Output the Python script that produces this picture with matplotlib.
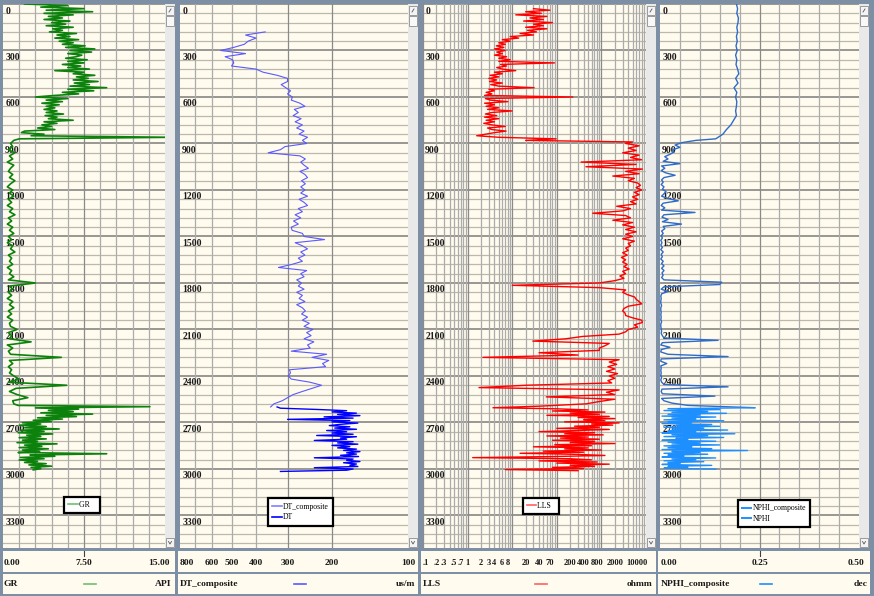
import numpy as np
import matplotlib
matplotlib.use('Agg')
import matplotlib.pyplot as plt
from matplotlib.lines import Line2D
from matplotlib.patches import Rectangle
from matplotlib.transforms import blended_transform_factory as blend

# ---------------- data ----------------
# GR (API): depth sample grids and values read from the log
gr_depth = np.concatenate([np.arange(0, 880, 10), np.arange(880, 2600, 20), np.arange(2590, 3010, 8)])
gr_api = [
    2.0, 6.0, 3.5, 7.5, 4.0, 8.3, 3.8, 6.5, 4.2, 5.5,
    3.8, 6.2, 4.5, 5.8, 4.0, 6.5, 4.6, 5.5, 4.3, 6.8,
    5.0, 6.2, 4.8, 7.0, 5.2, 6.5, 5.5, 7.6, 5.8, 8.5,
    6.2, 8.2, 6.0, 7.3, 6.8, 5.8, 7.8, 6.0, 7.5, 5.5,
    7.2, 6.0, 8.0, 4.8, 7.5, 6.5, 8.5, 6.8, 7.9, 6.5,
    8.8, 6.6, 8.0, 6.2, 9.6, 6.0, 8.4, 5.5, 7.0, 4.8,
    3.0, 6.0, 4.0, 5.5, 3.6, 5.2, 4.0, 4.8, 3.8, 5.0,
    4.0, 5.6, 3.9, 5.0, 4.2, 6.5, 3.8, 5.0, 3.6, 4.5,
    3.2, 4.8, 2.0, 1.7, 3.8, 2.6, 15.5, 1.5,
    1.0, 0.7, 0.9, 0.5, 1.1, 0.6, 0.9, 0.4, 1.0, 0.7,
    0.5, 0.9, 0.6, 1.1, 0.7, 0.4, 0.9, 0.6, 1.0, 0.5,
    0.8, 0.4, 0.9, 0.6, 1.1, 0.5, 0.8, 0.4, 0.9, 0.6,
    1.0, 0.5, 0.8, 0.4, 0.9, 0.7, 1.1, 0.5, 0.8, 0.6,
    0.9, 0.4, 0.8, 0.6, 1.0, 0.5, 3.0, 0.6, 0.9, 0.5,
    0.8, 0.4, 0.9, 0.6, 1.0, 0.5, 0.8, 0.4, 0.9, 0.6,
    0.7, 1.3, 0.5, 0.8, 0.6, 2.6, 0.4, 0.9, 0.5, 0.7,
    5.4, 0.6, 0.9, 0.5, 0.8, 0.6, 1.0, 1.5, 0.5, 5.9,
    1.2, 0.6, 1.3, 2.3, 0.9, 1.0,
    1.4, 13.6, 3.0, 7.0, 4.2, 6.5, 3.5, 8.3, 4.0, 6.8,
    3.2, 5.5, 2.8, 4.5, 1.8, 3.5, 1.5, 4.0, 2.0, 5.2,
    1.6, 3.8, 1.4, 4.6, 2.2, 3.5, 1.5, 4.0, 1.8, 3.2,
    1.3, 5.0, 2.0, 3.6, 1.5, 4.2, 1.8, 3.4, 1.4, 9.6,
    2.5, 4.8, 1.6, 3.8, 1.5, 3.2, 2.0, 4.0, 2.4, 4.5,
    2.6, 3.5, 2.8,
]

# DT_composite (us/m)
dtc_depth = np.arange(180, 2601, 20)
dtc_usm = [
    368, 440, 400, 430, 445, 490, 552, 440, 530, 495,
    490, 500, 400, 375, 330, 300, 300, 318, 305, 292,
    300, 287, 290, 268, 256, 282, 272, 285, 265, 280,
    262, 276, 258, 270, 250, 262, 252, 307, 320, 358,
    268, 255, 266, 258, 248, 268, 256, 250, 264, 255,
    266, 256, 266, 250, 270, 258, 250, 272, 262, 280,
    266, 284, 272, 290, 288, 262, 258, 214, 280, 262,
    250, 266, 256, 272, 262, 288, 326, 252, 266, 258,
    276, 264, 272, 258, 276, 262, 270, 256, 276, 262,
    255, 264, 250, 262, 246, 258, 238, 252, 242, 258,
    236, 250, 244, 290, 210, 240, 206, 218, 212, 295,
    292, 298, 290, 245, 220, 240, 262, 285, 300, 315,
    340, 350,
]

# DT (us/m)
dt_depth = np.arange(2600, 3017, 8)
dt_usm = [
    330, 320, 230, 175, 200, 160, 190, 155, 215, 165,
    300, 170, 200, 158, 185, 205, 170, 195, 160, 210,
    175, 200, 165, 230, 160, 185, 175, 235, 165, 190,
    158, 200, 170, 190, 160, 180, 155, 175, 160, 185,
    157, 235, 165, 175, 155, 180, 160, 170, 158, 235,
    165, 175, 320,
]

# LLS (ohmm)
lls_depth = np.concatenate([np.arange(30, 891, 10), np.arange(900, 2596, 15), np.arange(2605, 3015, 7)])
lls_ohmm = [
    30, 70, 20, 45, 12, 60, 25, 50, 18, 80,
    30, 50, 20, 60, 22, 35, 15, 30, 9, 14,
    6, 9, 5, 7, 4.4, 6.5, 4, 7, 4.5, 6,
    4, 7.5, 5, 9, 5, 89, 5.5, 7.5, 4.5, 6,
    12, 4, 6, 3.2, 5, 3, 4.5, 3.1, 6, 3.3,
    5, 31, 3, 4, 2.6, 3.5, 2.4, 229, 2.5, 3.2,
    8, 2.4, 4, 2.6, 5, 2.8, 10, 3.5, 2.5, 4.5,
    2.4, 5, 2.6, 4, 2.3, 3.5, 7, 2.8, 3.5, 7.3,
    4, 2.5, 1.6, 5, 97, 20, 5000,
    3500, 7000, 4000, 6000, 3000, 7000, 4500, 8000, 350, 6000,
    450, 8300, 3500, 7000, 1800, 5500, 4000, 6500, 7500, 6000,
    8000, 5500, 7000, 5000, 6500, 4500, 6000, 2200, 4500, 3000,
    640, 3500, 4500, 1800, 5000, 3000, 5500, 3500, 6000, 3500,
    5000, 3000, 5500, 4000, 4500, 3500, 4000, 3000, 3800, 2800,
    3500, 3000, 3800, 3200, 4200, 3000, 3500, 2600, 3200, 2000,
    900, 10, 900, 3500, 3000, 3800, 5500, 6000, 7000, 8000,
    4000, 3200, 3000, 3400, 3500, 5000, 8000, 8300, 5500, 6500,
    4000, 3500, 2500, 380, 160, 29, 1500, 1200, 900, 900,
    40, 300, 2.2, 2500, 1500, 2200, 1400, 2000, 1300, 2300,
    1500, 2000, 1400, 1700, 20, 1.8, 2500, 1300, 2000, 58,
    2000, 900, 450, 40,
    3.7, 100, 500, 80, 1200, 200, 900, 60, 1500, 300,
    2000, 400, 1200, 150, 2500, 600, 1800, 250, 900, 100,
    1500, 300, 40, 700, 150, 1100, 60, 500, 120, 900,
    80, 700, 200, 2000, 90, 600, 30, 500, 150, 1000,
    50, 400, 15, 300, 1200, 80, 1.3, 200, 600, 40,
    800, 100, 1500, 200, 700, 80, 400, 7, 300,
]

# NPHI_composite (dec)
nphic_depth = np.concatenate([np.arange(0, 871, 30), np.arange(880, 2606, 15)])
nphic_dec = [
    0.192, 0.195, 0.193, 0.197, 0.196, 0.193, 0.195, 0.192, 0.194, 0.191,
    0.194, 0.190, 0.193, 0.191, 0.195, 0.198, 0.190, 0.196, 0.186, 0.193,
    0.190, 0.193, 0.192, 0.190, 0.192, 0.185, 0.178, 0.167, 0.158, 0.140,
    0.090, 0.054, 0.038, 0.050, 0.032, 0.035, 0.025, 0.012, 0.020, 0.008,
    0.050, 0.004, 0.012, 0.003, 0.015, 0.038, 0.010, 0.004, 0.008, 0.003,
    0.010, 0.006, 0.015, 0.010, 0.004, 0.020, 0.046, 0.008, 0.003, 0.012,
    0.004, 0.088, 0.010, 0.005, 0.020, 0.006, 0.054, 0.008, 0.012, 0.004,
    0.008, 0.003, 0.006, 0.002, 0.005, 0.002, 0.006, 0.002, 0.008, 0.003,
    0.006, 0.002, 0.008, 0.004, 0.010, 0.004, 0.010, 0.005, 0.008, 0.004,
    0.010, 0.155, 0.150, 0.010, 0.003, 0.020, 0.004, 0.002, 0.003, 0.002,
    0.002, 0.004, 0.002, 0.002, 0.003, 0.002, 0.003, 0.002, 0.004, 0.002,
    0.002, 0.003, 0.004, 0.003, 0.006, 0.010, 0.146, 0.006, 0.002, 0.025,
    0.003, 0.002, 0.020, 0.171, 0.003, 0.002, 0.017, 0.002, 0.003, 0.002,
    0.003, 0.002, 0.004, 0.002, 0.004, 0.010, 0.171, 0.005, 0.003, 0.006,
    0.138, 0.004, 0.010, 0.030, 0.070, 0.238,
]

# NPHI (dec)
nphi_depth = np.arange(2605, 3002, 6)
nphi_dec = [
    0.238, 0.02, 0.15, 0.01, 0.12, 0.03, 0.167, 0.02, 0.10, 0.005,
    0.14, 0.03, 0.09, 0.01, 0.16, 0.02, 0.08, 0.005, 0.13, 0.04,
    0.15, 0.01, 0.11, 0.03, 0.17, 0.02, 0.09, 0.005, 0.188, 0.03,
    0.12, 0.01, 0.16, 0.04, 0.07, 0.005, 0.14, 0.02, 0.10, 0.03,
    0.15, 0.01, 0.08, 0.02, 0.13, 0.005, 0.22, 0.03, 0.10, 0.01,
    0.12, 0.02, 0.06, 0.005, 0.14, 0.03, 0.09, 0.01, 0.11, 0.02,
    0.05, 0.005, 0.13, 0.02, 0.07, 0.01, 0.14,
]

depth_labels = list(range(0, 3301, 300))
gr_ticks = [0.0, 7.5, 15.0]
gr_ticklabels = ['0.00', '7.50', '15.00']
dt_ticks = [800, 600, 500, 400, 300, 200, 100]
dt_ticklabels = ['800', '600', '500', '400', '300', '200', '100']
lls_ticks = [0.1, 0.2, 0.3, 0.5, 0.7, 1, 2, 3, 4, 6, 8, 20, 40, 70, 200, 400, 800, 2000, 10000]
lls_ticklabels = ['.1', '.2', '.3', '.5', '.7', '1', '2', '3', '4', '6', '8', '20', '40', '70',
                  '200', '400', '800', '2000', '10000']
nphi_ticks = [0.0, 0.25, 0.5]
nphi_ticklabels = ['0.00', '0.25', '0.50']

# ---------------- layout ----------------
W, H = 874, 596
fig = plt.figure(figsize=(W / 100, H / 100), dpi=100, facecolor='#7d8fa5')
BG = '#fffbee'
SERIF = ['Liberation Serif', 'DejaVu Serif']
DEPTH_MAX = 3510


def px(x0, y0, x1, y1):
    return [x0 / W, 1 - y1 / H, (x1 - x0) / W, (y1 - y0) / H]


def make_track(x0, x1, xlim, log=False):
    ax = fig.add_axes(px(x0, 4, x1, 548))
    ax.set_facecolor(BG)
    if log:
        ax.set_xscale('log')
    ax.set_xlim(*xlim)
    ax.set_ylim(DEPTH_MAX, 0)
    ax.set_xticks([])
    ax.set_yticks([])
    ax.minorticks_off()
    for s in ax.spines.values():
        s.set_visible(False)
    for d in range(0, DEPTH_MAX, 60):
        if d % 300 == 0:
            ax.axhline(d, color='#7c7c78', lw=1.1, zorder=1)
        else:
            ax.axhline(d, color='#bcb8ac', lw=0.9, zorder=0.9)
    tr = blend(ax.transAxes, ax.transData)
    for d in depth_labels:
        ax.annotate(str(d), xy=(0, d), xycoords=tr, xytext=(1.6, -1.8), textcoords='offset points',
                    ha='left', va='top', fontsize=7.0, fontweight='bold', family=SERIF,
                    color='#1a1a1a', zorder=1.5)
    return ax


def vlines(ax, xs, dark=()):
    for x in xs:
        ax.axvline(x, color='#8a8a8a' if x in dark else '#ababab', lw=0.9, zorder=1)


def scrollbar(x0, x1):
    sb = fig.add_axes(px(x0, 4, x1, 548))
    sb.set_xlim(0, 1)
    sb.set_ylim(544, 0)
    sb.axis('off')
    sb.add_patch(Rectangle((0, 0), 1, 544, facecolor='#e9e9e9', edgecolor='none'))
    sb.add_patch(Rectangle((0.08, 2), 0.84, 9, facecolor='#f4f4f4', edgecolor='#9a9a9a', lw=0.7))
    sb.add_patch(Rectangle((0.08, 12), 0.84, 10, facecolor='#f8f8f8', edgecolor='#9a9a9a', lw=0.7))
    sb.add_patch(Rectangle((0.08, 534), 0.84, 9, facecolor='#f4f4f4', edgecolor='#9a9a9a', lw=0.7))
    sb.plot([0.4, 0.6], [8, 5], color='#555555', lw=0.6)
    sb.plot([0.35, 0.5, 0.65], [537.5, 540, 537.5], color='#555555', lw=0.6)


def header(ax, hx0, hx1, ticks, labels, name, unit, color, mid_tick, first_px, last_px, unit_px, fs):
    h1 = fig.add_axes(px(hx0, 551, hx1, 572))
    h1.set_facecolor(BG)
    h1.set_xticks([])
    h1.set_yticks([])
    for s in h1.spines.values():
        s.set_visible(False)
    tr = blend(ax.transData, h1.transAxes)
    trf = blend(fig.transFigure, h1.transAxes)
    n = len(ticks)
    for i, (t, lab) in enumerate(zip(ticks, labels)):
        kw = dict(fontsize=fs, fontweight='bold', family=SERIF, color='#1a1a1a', va='center')
        if i == 0:
            h1.text(first_px / W, 0.45, lab, transform=trf, ha='left', **kw)
        elif i == n - 1:
            h1.text(last_px / W, 0.45, lab, transform=trf, ha='right', **kw)
        else:
            h1.text(t, 0.45, lab, transform=tr, ha='center', clip_on=False, **kw)
            if mid_tick:
                h1.plot([t, t], [0.78, 1.0], transform=tr, color='#404040', lw=0.8, clip_on=False)
    h2 = fig.add_axes(px(hx0, 574, hx1, 594))
    h2.set_facecolor(BG)
    h2.set_xticks([])
    h2.set_yticks([])
    for s in h2.spines.values():
        s.set_visible(False)
    trf2 = blend(fig.transFigure, h2.transAxes)
    kw = dict(fontsize=6.8, fontweight='bold', family=SERIF, color='#1a1a1a', va='center')
    h2.text(first_px / W, 0.5, name, transform=trf2, ha='left', **kw)
    h2.text(unit_px / W, 0.5, unit, transform=trf2, ha='right', **kw)
    tr2 = blend(ax.transAxes, h2.transAxes)
    wfrac = 12 / (ax.get_position().width * W)
    h2.plot([0.5, 0.5 + wfrac], [0.5, 0.5], transform=tr2, color=color, lw=1.2)


def legend(ax, handles, labels, cx, cy):
    leg = ax.legend(handles, labels, loc='center', bbox_to_anchor=(cx, cy), frameon=True,
                    fancybox=False, edgecolor='black', framealpha=1, facecolor='white',
                    prop=dict(family=SERIF, size=5.6), handlelength=1.2, handletextpad=0.15,
                    borderpad=0.55, labelspacing=0.35, borderaxespad=0)
    leg.get_frame().set_linewidth(1.6)
    leg.set_zorder(10)


# Track 1 : GR
ax1 = make_track(3, 165, (0, 15))
vlines(ax1, [1.5 * k for k in range(1, 10)], dark=(7.5,))
ax1.plot(gr_api, gr_depth, color='#0c820c', lw=1.2, zorder=3)
legend(ax1, [Line2D([], [], color='#6fbf6f', lw=1.2)], ['GR   '], 0.488, 0.079)
scrollbar(165, 175)
header(ax1, 3, 175, gr_ticks, gr_ticklabels, 'GR', 'API', '#6fbf6f', True, 4, 169.5, 171.5, 6.8)

# Track 2 : DT
ax2 = make_track(180, 408, (800, 100), log=True)
vlines(ax2, [700, 600, 500, 400, 300, 200], dark=(300, 200))
ax2.plot(dtc_usm, dtc_depth, color='#5a5aff', lw=0.8, zorder=3)
ax2.plot(dt_usm, dt_depth, color='#0000ff', lw=1.0, zorder=3.2)
legend(ax2, [Line2D([], [], color='#8080ff', lw=1.2), Line2D([], [], color='#0000ff', lw=1.2)],
       ['DT_composite', 'DT'], 0.528, 0.066)
scrollbar(408, 418)
header(ax2, 178, 418, dt_ticks, dt_ticklabels, 'DT_composite', 'us/m', '#5a5aff', False,
       180, 415.5, 415.5, 6.8)

# Track 3 : LLS
ax3 = make_track(423, 646, (0.1, 10000), log=True)
log_lines = [k * 10.0 ** e for e in range(-1, 4) for k in range(1, 10)]
vlines(ax3, log_lines, dark=(0.1, 1.0, 10.0, 100.0, 1000.0))
ax3.plot(lls_ohmm, lls_depth, color='#ff0000', lw=1.0, zorder=3)
legend(ax3, [Line2D([], [], color='#ff6060', lw=1.2)], ['LLS  '], 0.529, 0.077)
scrollbar(646, 656)
header(ax3, 421, 656, lls_ticks, lls_ticklabels, 'LLS', 'ohmm', '#ff6060', False,
       422.5, 647.5, 652, 6.0)

# Track 4 : NPHI
ax4 = make_track(660, 859, (0, 0.5))
vlines(ax4, [0.05 * k for k in range(1, 10)], dark=(0.05 * 5,))
ax4.plot(nphic_dec, nphic_depth, color='#2f6bc8', lw=1.0, zorder=3)
ax4.plot(nphi_dec, nphi_depth, color='#1e8fff', lw=1.0, zorder=3.2)
legend(ax4, [Line2D([], [], color='#1e8fff', lw=1.4), Line2D([], [], color='#1e8fff', lw=1.4)],
       ['NPHI_composite', 'NPHI'], 0.573, 0.063)
scrollbar(859, 869)
header(ax4, 658, 870, nphi_ticks, nphi_ticklabels, 'NPHI_composite', 'dec', '#1e8fff', True,
       660.5, 864, 867, 6.8)

fig.savefig('out.png', dpi=100, facecolor=fig.get_facecolor())
